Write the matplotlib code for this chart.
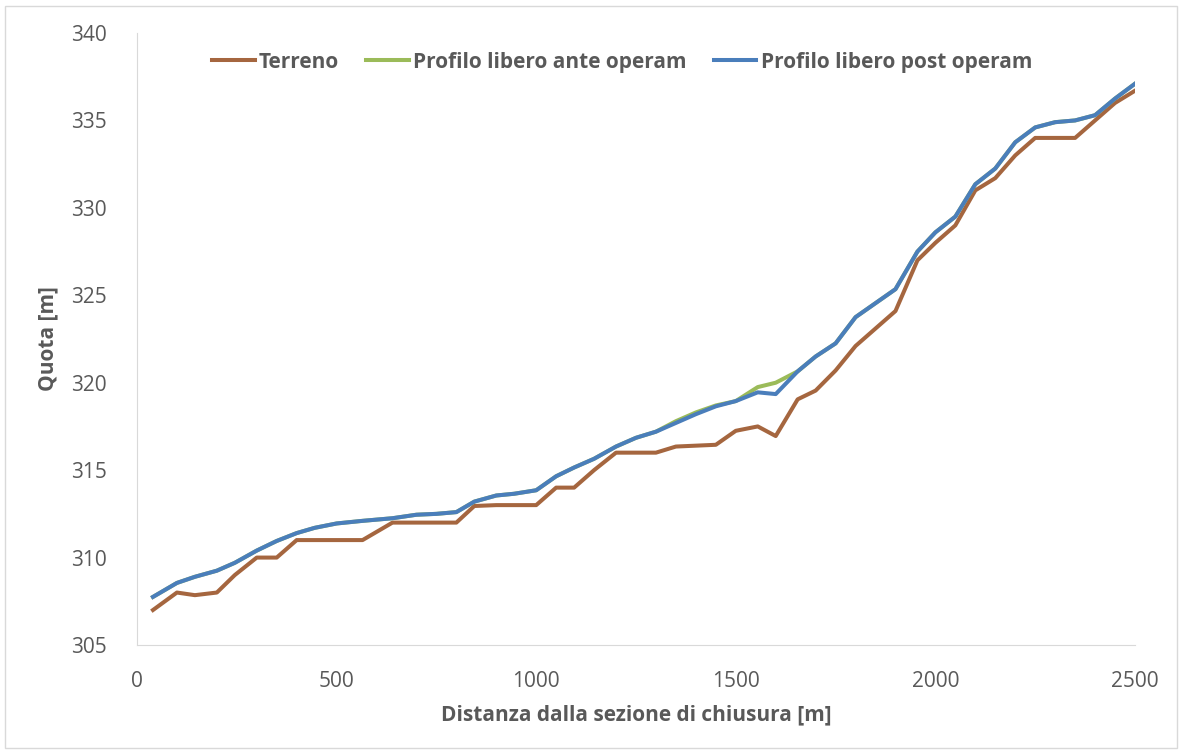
import matplotlib
matplotlib.use("Agg")
import matplotlib.pyplot as plt
from matplotlib.patches import Rectangle

distanza = [40, 100, 145, 200, 245, 300, 350, 400, 445, 500, 565, 640, 700, 750, 800,
            845, 900, 945, 1000, 1050, 1095, 1145, 1200, 1250, 1300, 1350, 1400, 1450,
            1500, 1555, 1600, 1655, 1700, 1750, 1800, 1850, 1900, 1955, 2000, 2050,
            2100, 2150, 2200, 2250, 2300, 2350, 2400, 2450, 2500]

terreno = [307.0, 308.0, 307.85, 308.0, 309.0, 310.0, 310.0, 311.0, 311.0, 311.0, 311.0,
           312.0, 312.0, 312.0, 312.0, 312.95, 313.0, 313.0, 313.0, 314.0, 314.0, 315.0,
           316.0, 316.0, 316.0, 316.35, 316.4, 316.45, 317.25, 317.5, 316.95, 319.05,
           319.55, 320.7, 322.1, 323.1, 324.1, 327.0, 328.0, 329.0, 331.0, 331.7, 333.0,
           334.0, 334.0, 334.0, 335.0, 336.0, 336.7]

post_operam = [307.75, 308.55, 308.9, 309.25, 309.7, 310.4, 310.95, 311.4, 311.7, 311.95,
               312.1, 312.25, 312.45, 312.5, 312.6, 313.2, 313.55, 313.65, 313.85, 314.65,
               315.15, 315.65, 316.35, 316.85, 317.2, 317.7, 318.2, 318.65, 318.95, 319.45,
               319.35, 320.65, 321.5, 322.25, 323.75, 324.55, 325.35, 327.5, 328.6, 329.5,
               331.35, 332.25, 333.75, 334.6, 334.9, 335.0, 335.3, 336.25, 337.1]

ante_operam = [307.75, 308.55, 308.9, 309.25, 309.7, 310.4, 310.95, 311.4, 311.7, 311.95,
               312.1, 312.25, 312.45, 312.5, 312.6, 313.2, 313.55, 313.65, 313.85, 314.65,
               315.15, 315.65, 316.35, 316.85, 317.2, 317.8, 318.3, 318.7, 318.95, 319.75,
               320.0, 320.65, 321.5, 322.25, 323.75, 324.55, 325.35, 327.5, 328.6, 329.5,
               331.35, 332.25, 333.75, 334.6, 334.9, 335.0, 335.3, 336.25, 337.1]

x_ticks = [0, 500, 1000, 1500, 2000, 2500]
y_ticks = [305, 310, 315, 320, 325, 330, 335, 340]

plt.rcParams['font.family'] = ['Open Sans', 'DejaVu Sans']
text_col = '#595959'

fig = plt.figure(figsize=(11.81, 7.51), dpi=100)
fig.patches.append(Rectangle((5/1181, 3/751), 1172/1181, 742/751, transform=fig.transFigure,
                             fill=False, edgecolor='#d9d9d9', linewidth=1))
ax = fig.add_axes([137/1181, 1 - 645/751, (1135-137)/1181, (645-33)/751])

ax.plot(distanza, terreno, color='#A5663F', lw=2.9, label='Terreno', solid_joinstyle='round')
ax.plot(distanza, ante_operam, color='#9BBB59', lw=2.9, label='Profilo libero ante operam', solid_joinstyle='round')
ax.plot(distanza, post_operam, color='#4A7EBB', lw=2.9, label='Profilo libero post operam', solid_joinstyle='round')

ax.set_xlim(0, 2500)
ax.set_ylim(305, 340)
ax.set_xticks(x_ticks)
ax.set_yticks(y_ticks)
ax.tick_params(length=0, labelsize=15, colors=text_col)
ax.tick_params(axis='x', pad=19)
ax.tick_params(axis='y', pad=22)
for s in ['top', 'right']:
    ax.spines[s].set_visible(False)
for s in ['left', 'bottom']:
    ax.spines[s].set_color('#d9d9d9')

ax.set_xlabel('Distanza dalla sezione di chiusura [m]', fontsize=15, fontweight='bold', color=text_col, labelpad=9)
ax.set_ylabel('Quota [m]', fontsize=15, fontweight='bold', color=text_col, labelpad=9)

leg = ax.legend(loc='upper center', bbox_to_anchor=(0.486, 1.0), ncol=3, frameon=False,
                prop={'size': 15, 'weight': 'bold'}, handlelength=2.05, handletextpad=0.2,
                columnspacing=1.3)
for t in leg.get_texts():
    t.set_color(text_col)

fig.savefig('out.png', dpi=100)
